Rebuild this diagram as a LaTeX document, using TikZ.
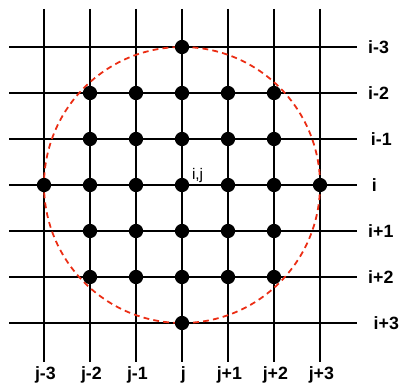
\documentclass[tikz,border=0pt]{standalone}
\usepackage{fontspec}
\setmainfont{Liberation Sans}
\usetikzlibrary{positioning}
\definecolor{circred}{RGB}{235,45,20}
\tikzset{
  gridline/.style={line width=1.2pt,black},
  site/.style={circle,fill=black,inner sep=0pt,minimum size=3.1mm},
  stencil/.style={circred,line width=1.1pt,dash pattern=on 3.6pt off 2.6pt},
  idx/.style={font=\fontsize{11}{13}\selectfont\bfseries,inner sep=0pt},
  ctr/.style={font=\fontsize{9.5}{11}\selectfont,inner sep=0pt},
}

\begin{document}
\begin{tikzpicture}
    \useasboundingbox (-3.957,-4.370) rectangle (4.717,4.022);
    \coordinate (c) at (0,0);
    % grid
    \foreach \k in {-3,...,3}{
      \coordinate (top\k) at (\k,3.83);
      \coordinate (bot\k) at (\k,-3.85);
      \coordinate (lft\k) at (-3.76,\k);
      \coordinate (rgt\k) at (3.80,\k);
      \draw[gridline] (top\k) -- (bot\k);
      \draw[gridline] (lft\k) -- (rgt\k);
    }
    % stencil radius
    \draw[stencil] (c) circle (3);
    % points inside the circle
    \foreach \a in {-3,...,3}
      \foreach \b in {-3,...,3}{
        \pgfmathtruncatemacro{\r}{\a*\a+\b*\b}
        \ifnum\r<10 \node[site] (p\a\b) at (\a,\b) {}; \fi
      }
    \node[ctr,anchor=base west] (ij) at (0.21,0.11) {i,j};
    % row and column indices
    \foreach \y/\x/\t [count=\i] in {3/4.04/i-3,2/4.04/i-2,1/4.10/i-1,0/4.12/i,
        -1/4.04/i+1,-2/4.04/i+2,-3/4.16/i+3}
      \node[idx,anchor=base west] (row\i) at (\x,\y-0.14) {\t};
    \foreach \x/\t [count=\i] in {-3/j-3,-2/j-2,-1/j-1,0/j,1/j+1,2/j+2,3/j+3}
      \node[idx,anchor=base] (col\i) at (\x+0.03,-4.22) {\t};
  \end{tikzpicture}
\end{document}
